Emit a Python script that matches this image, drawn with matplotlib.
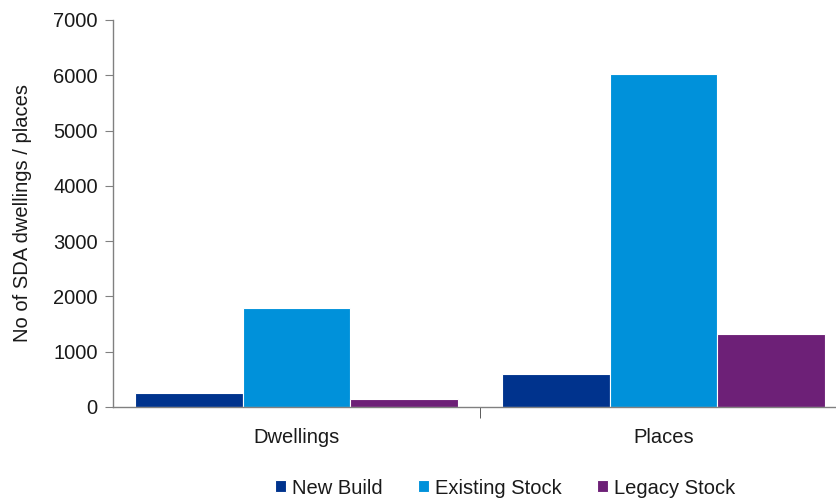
import matplotlib
matplotlib.use("Agg")
import matplotlib.pyplot as plt
import numpy as np

plt.rcParams['font.family'] = ['Liberation Sans', 'DejaVu Sans']

categories = ['Dwellings', 'Places']
series_names = ['New Build', 'Existing Stock', 'Legacy Stock']
new_build = [255, 600]
existing_stock = [1795, 6025]
legacy_stock = [150, 1325]
colors = ['#00338D', '#0091DA', '#6D2077']
y_ticks = [0, 1000, 2000, 3000, 4000, 5000, 6000, 7000]

fig = plt.figure(figsize=(8.36, 5.0), dpi=100)
# axes extends a little past the right edge, as in the original
ax = fig.add_axes([113 / 836, 93 / 500, 734 / 836, 387 / 500])

x = np.arange(len(categories))
width = 0.293
for i, (vals, name, c) in enumerate(zip([new_build, existing_stock, legacy_stock], series_names, colors)):
    ax.bar(x + (i - 1) * width, vals, width, color=c, edgecolor='white', linewidth=0.8, label=name)

ax.set_xlim(-0.5, 1.5)
ax.set_ylim(0, 7000)
ax.set_yticks(y_ticks)
ax.set_xticks(x)
ax.set_xticklabels(categories)
ax.set_xticks([0.5], minor=True)

for s in ['top', 'right']:
    ax.spines[s].set_visible(False)
for s in ['left', 'bottom']:
    ax.spines[s].set_color('#808080')
    ax.spines[s].set_linewidth(1.0)

fs = 14.5
ax.tick_params(axis='y', length=6, color='#808080', labelsize=fs, pad=5, labelcolor='#1a1a1a')
ax.tick_params(axis='x', which='major', length=0, labelsize=fs, pad=15, labelcolor='#1a1a1a')
ax.tick_params(axis='x', which='minor', length=8, color='#404040')

ax.set_ylabel('No of SDA dwellings / places', fontsize=fs, color='#1a1a1a', labelpad=15)

handles, labels = ax.get_legend_handles_labels()
fig.legend(handles, labels, loc='center', bbox_to_anchor=(505 / 836, 1 - 488 / 500),
           ncol=3, frameon=False, fontsize=fs, handlelength=0.55, handleheight=0.55,
           handletextpad=0.3, columnspacing=1.75, labelcolor='#1a1a1a')

fig.savefig('out.png', dpi=100)
